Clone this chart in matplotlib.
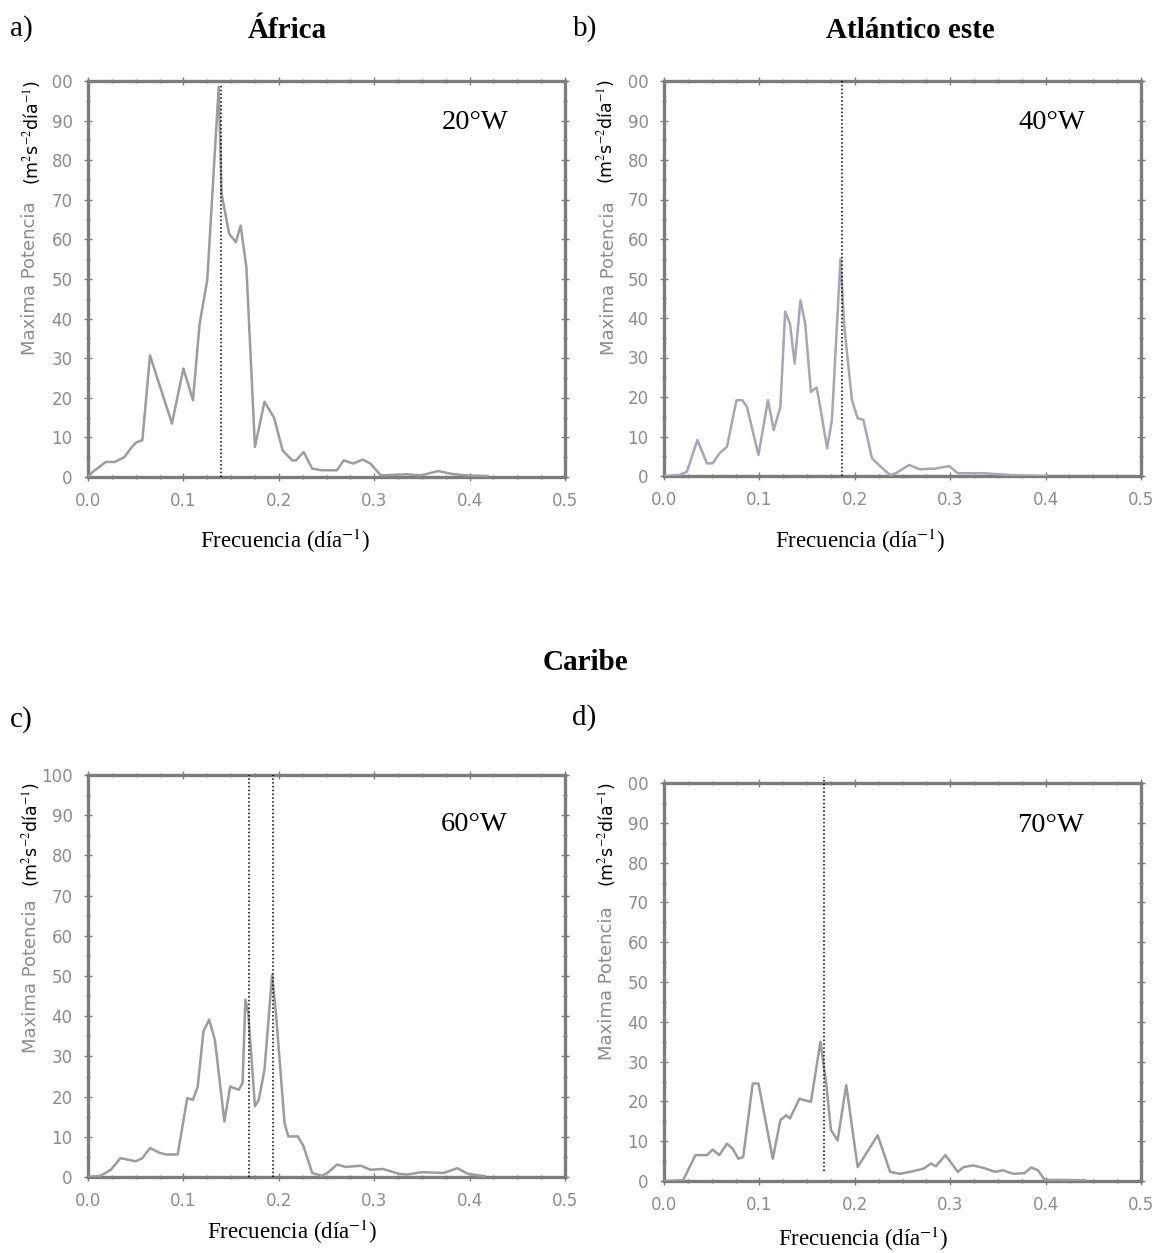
import numpy as np
import matplotlib
matplotlib.use("Agg")
import matplotlib.pyplot as plt
from matplotlib.patches import Rectangle
from matplotlib.ticker import MultipleLocator

W, H = 1156, 1253

# --- data ---
freq_a = [0.0, 0.005, 0.0186, 0.028, 0.038, 0.046, 0.051, 0.057, 0.065, 0.088, 0.100, 0.110,
          0.117, 0.125, 0.137, 0.140, 0.148, 0.155, 0.160, 0.166, 0.175, 0.185, 0.195, 0.204,
          0.214, 0.218, 0.226, 0.235, 0.245, 0.261, 0.268, 0.278, 0.288, 0.296, 0.307, 0.334,
          0.349, 0.367, 0.381, 0.396, 0.419]
pot_a = [0.0, 1.3, 3.8, 3.8, 5.0, 7.6, 8.8, 9.3, 30.7, 13.5, 27.4, 19.4,
         38.7, 49.7, 98.5, 71.5, 61.4, 59.3, 63.5, 53.0, 7.6, 19.0, 15.0, 6.7,
         4.2, 4.2, 6.3, 2.1, 1.7, 1.7, 4.2, 3.4, 4.4, 3.4, 0.4, 0.7,
         0.4, 1.5, 0.8, 0.4, 0.25]

freq_b = [0.0, 0.016, 0.024, 0.035, 0.045, 0.051, 0.058, 0.066, 0.076, 0.082, 0.087, 0.099,
          0.109, 0.115, 0.122, 0.127, 0.132, 0.137, 0.143, 0.148, 0.154, 0.160, 0.164, 0.171,
          0.176, 0.185, 0.189, 0.197, 0.203, 0.209, 0.218, 0.227, 0.237, 0.243, 0.257, 0.268,
          0.285, 0.299, 0.308, 0.335, 0.366, 0.400]
pot_b = [0.0, 0.25, 1.1, 9.1, 3.2, 3.2, 5.7, 7.4, 19.2, 19.2, 17.5, 5.3,
         19.2, 11.6, 17.5, 41.6, 38.6, 28.5, 44.5, 38.6, 21.3, 22.4, 17.1, 7.0,
         14.2, 55.0, 37.8, 19.2, 14.6, 14.2, 4.5, 2.4, 0.25, 0.7, 2.8, 1.7,
         1.9, 2.5, 0.7, 0.7, 0.2, 0.0]

freq_c = [0.0, 0.013, 0.024, 0.034, 0.042, 0.050, 0.057, 0.065, 0.075, 0.082, 0.094, 0.104,
          0.110, 0.115, 0.121, 0.127, 0.133, 0.143, 0.149, 0.158, 0.162, 0.165, 0.168, 0.175,
          0.179, 0.185, 0.193, 0.197, 0.206, 0.210, 0.220, 0.226, 0.235, 0.245, 0.251, 0.261,
          0.270, 0.286, 0.296, 0.309, 0.326, 0.334, 0.350, 0.373, 0.387, 0.398, 0.416]
pot_c = [0.0, 0.3, 1.8, 4.7, 4.3, 3.9, 4.7, 7.2, 6.0, 5.6, 5.6, 19.6,
         19.2, 22.5, 36.2, 39.1, 34.1, 13.8, 22.5, 21.7, 23.4, 44.1, 40.8, 17.6,
         19.2, 26.7, 50.3, 40.8, 13.4, 10.1, 10.1, 7.6, 1.0, 0.3, 1.0, 3.1,
         2.5, 2.8, 1.8, 2.0, 0.8, 0.6, 1.2, 1.0, 2.2, 0.8, 0.2]

freq_d = [0.0, 0.020, 0.033, 0.045, 0.051, 0.058, 0.066, 0.072, 0.078, 0.083, 0.093, 0.099,
          0.114, 0.122, 0.128, 0.132, 0.142, 0.147, 0.154, 0.164, 0.170, 0.175, 0.182, 0.191,
          0.203, 0.224, 0.237, 0.247, 0.258, 0.272, 0.280, 0.285, 0.295, 0.308, 0.314, 0.324,
          0.335, 0.347, 0.355, 0.366, 0.378, 0.385, 0.392, 0.399, 0.441]
pot_d = [0.0, 0.2, 6.5, 6.5, 7.9, 6.5, 9.4, 8.1, 5.6, 6.0, 24.5, 24.5,
         5.6, 15.3, 16.5, 15.7, 20.7, 20.3, 19.9, 35.0, 24.5, 12.8, 10.2, 24.1,
         3.5, 11.5, 2.3, 1.8, 2.3, 3.1, 4.4, 3.7, 6.5, 2.3, 3.5, 3.9,
         3.3, 2.3, 2.7, 1.8, 2.0, 3.4, 2.7, 0.3, 0.2]

# dominant frequencies marked with dotted lines: (x, ymin, ymax)
marks_a = [(0.139, 0, 99)]
marks_b = [(0.187, 0, 100)]
marks_c = [(0.1685, 0, 100), (0.1935, 0, 100)]
marks_d = [(0.168, 2.5, 101.5)]

titles = ["África", "Atlántico este", "Caribe"]
longitudes = ["20°W", "40°W", "60°W", "70°W"]
letters = ["a)", "b)", "c)", "d)"]

xticks = [0.0, 0.1, 0.2, 0.3, 0.4, 0.5]
xticklabels = ["0.0", "0.1", "0.2", "0.3", "0.4", "0.5"]
yticks = [0, 10, 20, 30, 40, 50, 60, 70, 80, 90, 100]

plt.rcParams["mathtext.fontset"] = "stix"
serif = "Liberation Serif"
grey_txt = "#8c8c8c"
spine_col = "#7c7c7c"


def px(x, y):
    return x / W, 1 - y / H


def make_axes(left, top, right, bottom):
    return fig.add_axes([left / W, 1 - bottom / H, (right - left) / W, (bottom - top) / H])


fig = plt.figure(figsize=(W / 100, H / 100), dpi=100)

# axes boxes in pixels: left, top, right, bottom
boxes = [(88, 81, 565, 477), (664, 81, 1141, 476), (88, 775, 565, 1177), (664, 783, 1141, 1181)]
series = [(freq_a, pot_a, "#9c9c9c", marks_a), (freq_b, pot_b, "#a6a6b6", marks_b),
          (freq_c, pot_c, "#9c9c9c", marks_c), (freq_d, pot_d, "#9c9c9c", marks_d)]
lon_pos = [(0.812, 0.894), (0.813, 0.894), (0.81, 0.876), (0.81, 0.894)]

for i, (box, (f, p, col, marks)) in enumerate(zip(boxes, series)):
    ax = make_axes(*box)
    ax.plot(f, p, color=col, lw=1.8, zorder=3)
    for xm, y0, y1 in marks:
        ax.plot([xm, xm], [y0, y1], color="black", lw=1.1, ls=(0, (1, 1.5)), zorder=4, clip_on=False)
    ax.set_xlim(0, 0.5)
    ax.set_ylim(0, 100)
    ax.set_xticks(xticks)
    ax.set_xticklabels(xticklabels)
    ax.set_yticks(yticks)
    ax.xaxis.set_minor_locator(MultipleLocator(0.025))
    ax.yaxis.set_minor_locator(MultipleLocator(5))
    ax.tick_params(which="both", direction="inout", top=True, right=True, color=spine_col,
                   labelcolor=grey_txt, labelsize=12, width=1.0)
    ax.tick_params(which="major", length=6, pad=8)
    ax.tick_params(which="minor", length=3)
    for s in ax.spines.values():
        s.set_color(spine_col)
        s.set_linewidth(2.4)
    ax.text(*lon_pos[i], longitudes[i], transform=ax.transAxes, ha="center", va="center",
            fontsize=20.5, family=serif)

# panel letters and region titles
fig.text(*px(21, 29), letters[0], ha="center", va="center", fontsize=21, family=serif)
fig.text(*px(585, 29), letters[1], ha="center", va="center", fontsize=21, family=serif)
fig.text(*px(21, 720), letters[2], ha="center", va="center", fontsize=21, family=serif)
fig.text(*px(584, 718), letters[3], ha="center", va="center", fontsize=21, family=serif)
fig.text(*px(287, 30), titles[0], ha="center", va="center", fontsize=21, family=serif, weight="bold")
fig.text(*px(910, 30), titles[1], ha="center", va="center", fontsize=21, family=serif, weight="bold")
fig.text(*px(585, 662), titles[2], ha="center", va="center", fontsize=21, family=serif, weight="bold")

# x labels
xlab = "Frecuencia (día$^{-1}$)"
for xx, yy in [(285, 548), (860, 548), (292, 1239), (863, 1246)]:
    fig.text(*px(xx, yy), xlab, ha="center", va="baseline", fontsize=16.5, family=serif)

# y labels (white strip hides the leading digit of the top tick, as in the scan)
for xl, xr, yt in [(0, 53, 70), (577, 629, 70), (577, 629, 772)]:
    fig.patches.append(Rectangle(px(xl, yt + 120), (xr - xl) / W, 120 / H, transform=fig.transFigure,
                                 facecolor="white", edgecolor="none", zorder=5))
ylab_units = "(m$^2$s$^{-2}$día$^{-1}$)"
for (bx, by), (gx, gy) in [((32, 133), (30, 278)), ((606, 132), (609, 278)),
                           ((31, 835), (31, 976)), ((607, 835), (607, 983))]:
    fig.text(*px(bx, by), ylab_units, rotation=90, ha="center", va="center", fontsize=12.5,
             family="DejaVu Sans", zorder=6)
    fig.text(*px(gx, gy), "Maxima Potencia", rotation=90, ha="center", va="center",
             fontsize=13, color=grey_txt, zorder=6)

fig.savefig("out.png", dpi=100)
